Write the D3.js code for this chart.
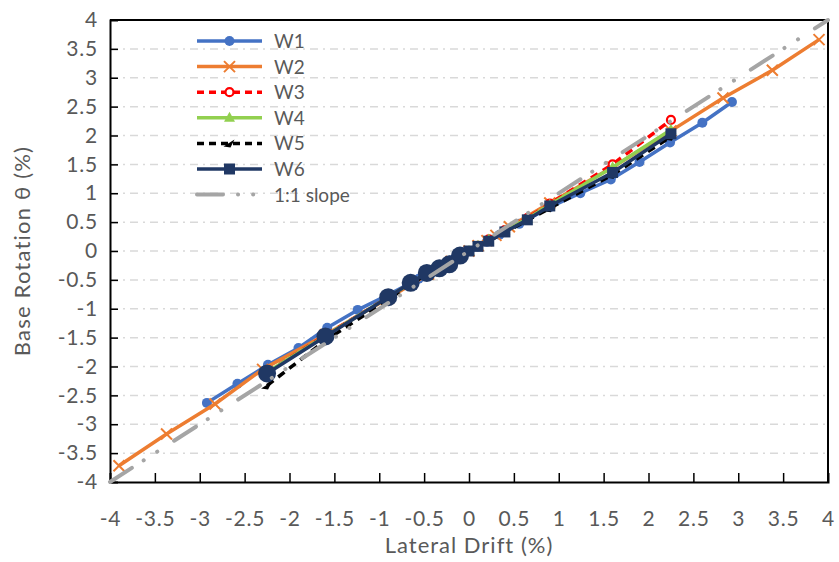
<!DOCTYPE html>
<html><head><meta charset="utf-8">
<script src="https://cdn.jsdelivr.net/npm/d3@7"></script>
<style>body{margin:0;background:#fff}svg{display:block}text{font-family:Lato,"Open Sans",sans-serif;fill:#595959}</style>
</head><body><svg id="c" width="839" height="562"></svg>
<script>
const ticks = [-4,-3.5,-3,-2.5,-2,-1.5,-1,-0.5,0,0.5,1,1.5,2,2.5,3,3.5,4];
const w1x = [-2.92,-2.58,-2.24,-1.9,-1.58,-1.24,-0.9,-0.56,-0.34,-0.2,-0.1,0,0.1,0.2,0.34,0.56,0.9,1.24,1.58,1.9,2.24,2.6,2.93];
const w1y = [-2.63,-2.3,-1.97,-1.68,-1.33,-1.02,-0.76,-0.48,-0.28,-0.16,-0.08,0,0.08,0.16,0.28,0.47,0.76,1.0,1.24,1.54,1.88,2.22,2.58];
const w2x = [-3.9,-3.37,-2.83,-2.3,-1.6,-0.9,-0.45,-0.3,-0.2,-0.1,0,0.1,0.2,0.3,0.45,0.9,1.6,2.25,2.83,3.38,3.9];
const w2y = [-3.72,-3.17,-2.65,-2.05,-1.45,-0.82,-0.4,-0.27,-0.18,-0.09,0,0.09,0.18,0.27,0.42,0.83,1.45,2.08,2.65,3.13,3.66];
const w3x = [-2.25,-1.6,-0.9,-0.65,-0.47,-0.33,-0.22,-0.1,0,0.1,0.22,0.4,0.65,0.9,1.6,2.25];
const w3y = [-2.1,-1.46,-0.8,-0.56,-0.38,-0.28,-0.2,-0.09,0,0.09,0.2,0.36,0.57,0.82,1.5,2.27];
const w4x = [-2.25,-1.6,-0.9,-0.65,-0.47,-0.33,-0.22,-0.1,0,0.1,0.22,0.4,0.65,0.9,1.6,2.25];
const w4y = [-2.1,-1.47,-0.8,-0.56,-0.38,-0.28,-0.2,-0.09,0,0.09,0.2,0.35,0.56,0.8,1.45,2.1];
const w5x = [-2.25,-1.6,-0.9,-0.65,-0.47,-0.33,-0.22,-0.1,0,0.1,0.22,0.4,0.65,0.9,1.6,2.25];
const w5y = [-2.33,-1.55,-0.84,-0.58,-0.4,-0.3,-0.22,-0.1,0,0.08,0.17,0.32,0.53,0.74,1.32,1.98];
const w6x = [-2.25,-1.6,-0.9,-0.65,-0.47,-0.33,-0.22,-0.1,0,0.1,0.22,0.4,0.65,0.9,1.6,2.25];
const w6y = [-2.12,-1.48,-0.8,-0.55,-0.38,-0.3,-0.23,-0.08,0,0.08,0.17,0.33,0.54,0.78,1.36,2.03];
const slopeX = [-4,4];
const slopeY = [-4,4];
const names = ["W1","W2","W3","W4","W5","W6","1:1 slope"];

const svg = d3.select("#c");
const L=110,R=828,T=20,B=482;
const x = d3.scaleLinear().domain([-4,4]).range([L,R]);
const y = d3.scaleLinear().domain([-4,4]).range([B,T]);

svg.append("g").selectAll("line").data(ticks.filter(t=>t>-4&&t<4)).join("line")
  .attr("x1",L).attr("x2",R).attr("y1",d=>y(d)).attr("y2",d=>y(d))
  .attr("stroke","#d9d9d9").attr("stroke-width",1.5).attr("stroke-dasharray","8,5,2,5");

const fmt = d=>String(d);
const xa = svg.append("g").attr("transform",`translate(0,${B})`)
  .call(d3.axisBottom(x).tickValues(ticks).tickSize(-9).tickPadding(29).tickFormat(fmt));
const ya = svg.append("g").attr("transform",`translate(${L},0)`)
  .call(d3.axisLeft(y).tickValues(ticks).tickSize(-8).tickPadding(12).tickFormat(fmt));
[xa,ya].forEach(a=>{a.select(".domain").attr("stroke","#000").attr("stroke-width",2);
  a.selectAll(".tick line").attr("stroke","#000").attr("stroke-width",1.5);
  a.selectAll("text").attr("font-size",21).attr("letter-spacing",0.8).style("fill","#595959").attr("font-family","Lato,sans-serif");});
xa.selectAll(".tick").filter(d=>d===4||d===-4).select("line").remove();
ya.selectAll(".tick").filter(d=>d===4||d===-4).select("line").remove();
svg.append("line").attr("x1",L).attr("x2",R).attr("y1",T).attr("y2",T).attr("stroke","#000").attr("stroke-width",2);
svg.append("line").attr("x1",R).attr("x2",R).attr("y1",T).attr("y2",B).attr("stroke","#000").attr("stroke-width",2);

svg.append("text").attr("x",(L+R)/2).attr("y",553).attr("text-anchor","middle").attr("font-size",22).attr("letter-spacing",1).text("Lateral Drift (%)");
svg.append("text").attr("transform",`translate(30,${(T+B)/2}) rotate(-90)`).attr("text-anchor","middle").attr("font-size",22).attr("letter-spacing",1.2).text("Base Rotation θ  (%)");

const zip=(a,b)=>a.map((v,i)=>[v,b[i]]);
const line = d3.line().x(d=>x(d[0])).y(d=>y(d[1]));
const series = [
  {n:names[0],d:zip(w1x,w1y),c:"#4472c4",dash:null,m:"circle"},
  {n:names[1],d:zip(w2x,w2y),c:"#ed7d31",dash:null,m:"x"},
  {n:names[2],d:zip(w3x,w3y),c:"#ff0000",dash:"8,6",m:"ocircle"},
  {n:names[3],d:zip(w4x,w4y),c:"#92d050",dash:null,m:"tri"},
  {n:names[4],d:zip(w5x,w5y),c:"#000000",dash:"8,6",m:"arrow"},
  {n:names[5],d:zip(w6x,w6y),c:"#203864",dash:null,m:"sq"}
];
function marker(g,m,c,px,py,neg){
  if(m==="circle") g.append("circle").attr("cx",px).attr("cy",py).attr("r",5).attr("fill",c);
  else if(m==="x") g.append("path").attr("d",`M${px-5.5},${py-5.5}L${px+5.5},${py+5.5}M${px-5.5},${py+5.5}L${px+5.5},${py-5.5}`).attr("stroke",c).attr("stroke-width",2);
  else if(m==="ocircle") g.append("circle").attr("cx",px).attr("cy",py).attr("r",4).attr("fill","#fff").attr("stroke",c).attr("stroke-width",2.2);
  else if(m==="tri") g.append("path").attr("d",`M${px},${py-6}L${px+5.5},${py+4}L${px-5.5},${py+4}Z`).attr("fill",c);
  else if(m==="arrow") g.append("path").attr("d",`M${px+5},${py-4}L${px-6},${py+3}L${px+1},${py+4}Z`).attr("fill",c);
  else if(m==="sq"){ if(neg) g.append("circle").attr("cx",px).attr("cy",py).attr("r",9).attr("fill",c);
    else g.append("rect").attr("x",px-5.5).attr("y",py-5.5).attr("width",11).attr("height",11).attr("fill",c);}
}
series.forEach(s=>{
  const g=svg.append("g");
  g.append("path").datum(s.d).attr("d",line).attr("fill","none").attr("stroke",s.c).attr("stroke-width",3.5)
    .attr("stroke-dasharray",s.dash).attr("stroke-linejoin","round");
  s.d.forEach(p=>marker(g,s.m,s.c,x(p[0]),y(p[1]),p[0]<0));
});
svg.append("path").datum(zip(slopeX,slopeY)).attr("d",line).attr("fill","none").attr("stroke","#a5a5a5")
  .attr("stroke-width",4).attr("stroke-linecap","round").attr("stroke-dasharray","26,14,0.1,16,0.1,20");

const lg = svg.append("g");
const lx0=197,lx1=262,ly0=41,dy=25.6;
series.forEach((s,i)=>{
  const yy=ly0+i*dy;
  lg.append("line").attr("x1",lx0).attr("x2",lx1).attr("y1",yy).attr("y2",yy).attr("stroke",s.c).attr("stroke-width",3.5).attr("stroke-dasharray",s.dash?"7,5":null);
  marker(lg,s.m,s.c,(lx0+lx1)/2,yy,false);
  lg.append("text").attr("x",274).attr("y",yy+7).attr("font-size",19).text(s.n);
});
const yy=ly0+6*dy;
lg.append("line").attr("x1",lx0).attr("x2",lx1+14).attr("y1",yy).attr("y2",yy).attr("stroke","#a5a5a5").attr("stroke-width",4)
  .attr("stroke-linecap","round").attr("stroke-dasharray","26,15,0.1,15,0.1,30");
lg.append("text").attr("x",274).attr("y",yy+7).attr("font-size",19).text(names[6]);
</script></body></html>
